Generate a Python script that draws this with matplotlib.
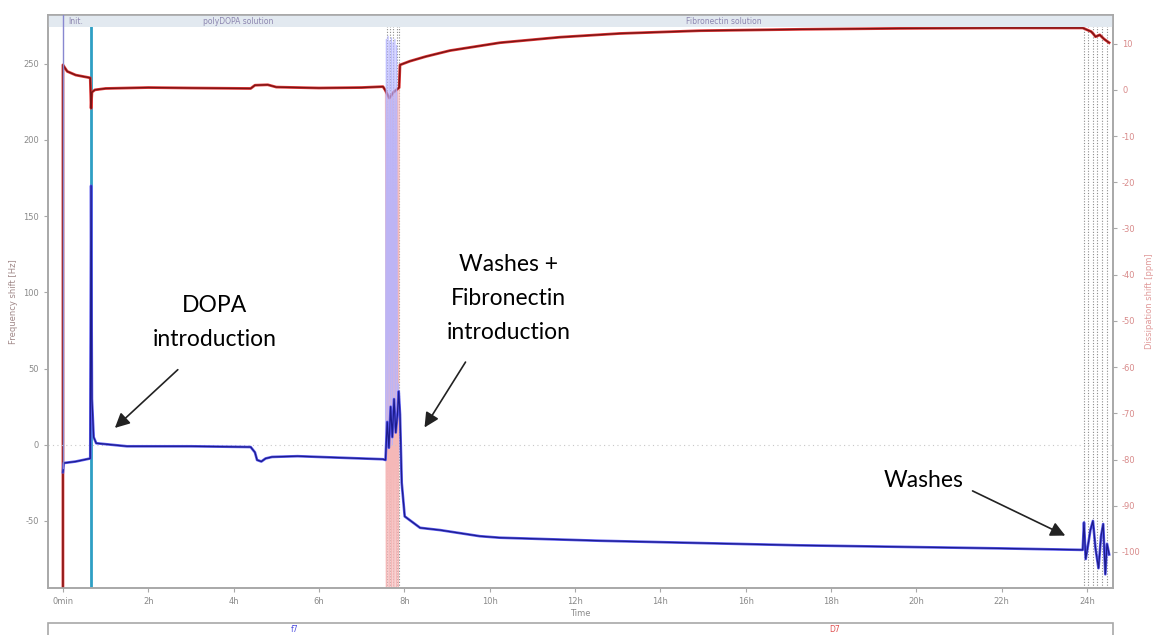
import matplotlib
import matplotlib.pyplot as plt
from matplotlib.patches import Rectangle

matplotlib.use('agg')
plt.rcParams['axes.unicode_minus'] = False

# frequency shift (Hz) against time (h)
f_time = [0.0, 0.02, 0.3, 0.64, 0.66, 0.68, 0.72, 0.78, 1.5, 3.0, 4.4, 4.5, 4.55, 4.65, 4.75,
          4.9, 5.5, 6.5, 7.5, 7.56, 7.6, 7.64, 7.68, 7.72, 7.76, 7.8, 7.84, 7.87, 7.9, 7.94, 8.01,
          8.37, 8.84, 9.77, 10.24, 12.58, 14.93, 17.27, 19.62, 21.96, 23.9, 23.93, 23.97, 24.03,
          24.08, 24.14, 24.2, 24.27, 24.33, 24.38, 24.43, 24.47, 24.52]
f_values = [-18, -12, -11, -9, 170, 30, 5, 1, -1, -1, -1.5, -5, -10, -11, -9,
            -8, -7.5, -8.5, -9.5, -10, 15, -2, 25, 5, 30, 8, 20, 35, 20, -25, -47,
            -54.5, -56, -60, -61, -63, -64.5, -66, -67, -68, -69, -51, -75, -65,
            -56, -50, -68, -81, -60, -52, -85, -65, -72]

# dissipation shift (ppm) against time (h)
d_time = [0.0, 0.0, 0.1, 0.3, 0.64, 0.66, 0.68, 0.75, 1.0, 2.0, 3.0, 4.4, 4.5, 4.8, 5.0, 6.0,
          7.0, 7.5, 7.55, 7.65, 7.75, 7.88, 7.9, 8.13, 8.5, 9.07, 10.24, 11.65, 13.05, 14.93,
          17.27, 19.6, 21.96, 23.9, 24.0, 24.1, 24.15, 24.2, 24.3, 24.4, 24.52]
d_values = [-120, 5.4, 4.0, 3.2, 2.6, -4, -0.5, 0.0, 0.3, 0.5, 0.4, 0.3, 1.0, 1.1, 0.6, 0.4,
            0.5, 0.7, 0.0, -1.8, -0.5, 0.5, 5.4, 6.2, 7.2, 8.5, 10.2, 11.4, 12.2, 12.8,
            13.1, 13.3, 13.4, 13.4, 13.0, 12.6, 12.1, 11.5, 11.9, 11.0, 10.2]

# rinse cycles around 7.6 h
wash_time = [7.56, 7.58, 7.60, 7.62, 7.64, 7.66, 7.68, 7.70, 7.72, 7.74, 7.76, 7.78, 7.80,
             7.82, 7.84, 7.86, 7.88]
wash_f = [-8, 266, 5, 268, 10, 265, 15, 267, 0, 264, 20, 266, 8, 262, 25, 40, 18]
wash_d = [0, -110, -1, -110, -2, -110, -1, -110, -0.5, -110, -1, -110, 0, -110, 0.5, -110, 5]

# event markers
init_start = 0.0
dopa_start = 0.66
wash1_marks = [7.59, 7.66, 7.73, 7.83, 7.88]
wash2_marks = [23.92, 24.02, 24.14, 24.23, 24.35, 24.47]

tick_hours = [0, 2, 4, 6, 8, 10, 12, 14, 16, 18, 20, 22, 24]
tick_labels = ['0min', '2h', '4h', '6h', '8h', '10h', '12h', '14h', '16h', '18h', '20h', '22h', '24h']
f_ticks = [-50, 0, 50, 100, 150, 200, 250]
d_ticks = [10, 0, -10, -20, -30, -40, -50, -60, -70, -80, -90, -100]

W, H = 1162, 635
fig = plt.figure(figsize=(W / 100, H / 100), dpi=100)
ax = fig.add_axes([48 / W, 1 - 588 / H, (1113 - 48) / W, (588 - 15) / H])
ax2 = ax.twinx()
ax.set_zorder(ax2.get_zorder() + 1)
ax.patch.set_visible(False)

grey = '#a8a8a8'
for a in (ax, ax2):
    for s in a.spines.values():
        s.set_color(grey)
        s.set_linewidth(1.2)

ax.set_xlim(-0.35, 24.61)
ax.set_ylim(-94, 282)
ax2.set_ylim(-107.8, 16.2)

# event lines
ax.axvline(init_start, ymin=(-15 + 94) / 376, color='#8888d0', lw=1.0, zorder=5)
ax2.axvline(dopa_start, color='#2e9fc4', lw=2.0, zorder=1)
for t in wash1_marks + wash2_marks:
    ax2.axvline(t, color='#8c8c8c', lw=0.8, ls=(0, (1, 1.5)), zorder=1)
ax.axhline(0, color='#c8c8c8', lw=0.8, ls=(0, (1, 3)), zorder=0)

# dissipation on the right axis
ax2.plot(wash_time, wash_d, color='#f5b8b8', lw=0.9, zorder=2)
ax2.plot(d_time, d_values, color='#e23a3a', lw=2.0, zorder=3)
ax2.plot(d_time, d_values, color='#7a1414', lw=1.0, zorder=4)

# frequency on the left axis
ax.plot(wash_time, wash_f, color='#b4b4ff', lw=0.9, alpha=0.85, zorder=2)
ax.plot(f_time, f_values, color='#5a5af0', lw=1.9, zorder=3)
ax.plot(f_time, f_values, color='#1c1c8c', lw=0.9, zorder=4)

ax.set_xticks(tick_hours)
ax.set_xticklabels(tick_labels)
ax.set_yticks(f_ticks)
ax2.set_yticks(d_ticks)
ax.tick_params(axis='both', colors=grey, labelcolor='#8a8a8a', labelsize=6, length=3, width=0.8)
ax2.tick_params(axis='y', colors=grey, labelcolor='#d88a8a', labelsize=6, length=3, width=0.8)
ax.set_xlabel('Time', fontsize=6, color='#8a8a8a', labelpad=2)
ax.set_ylabel('Frequency shift [Hz]', fontsize=6, color='#a08888', labelpad=4)
ax2.set_ylabel('Dissipation shift [ppm]', fontsize=6, color='#e09a9a', labelpad=3)
ax2.yaxis.label.set_rotation(90)

# header band with phase names
band_h = 12 / 573
ax.add_patch(Rectangle((0, 1 - band_h), 1, band_h, transform=ax.transAxes,
                       facecolor='#e2e9f0', edgecolor='none', zorder=0.5))
band_y = 1 - band_h / 2
ax.text(0.3, band_y, 'Init.', transform=ax.get_xaxis_transform(), fontsize=5.5,
        color='#8c86b0', va='center', ha='center')
ax.text(4.1, band_y, 'polyDOPA solution', transform=ax.get_xaxis_transform(), fontsize=5.5,
        color='#8c86b0', va='center', ha='center')
ax.text(15.5, band_y, 'Fibronectin solution', transform=ax.get_xaxis_transform(), fontsize=5.5,
        color='#8c86b0', va='center', ha='center')

# annotations
note = dict(fontsize=16.5, family='Lato', color='black', ha='center', va='center', linespacing=1.75)
arrow = dict(arrowstyle='-|>', color='#222222', lw=1.2, mutation_scale=22)
ax.text(3.55, 80, 'DOPA\nintroduction', **note)
ax.annotate('', xy=(1.17, 9.8), xytext=(2.74, 50.5), arrowprops=arrow)
ax.text(10.45, 96, 'Washes +\nFibronectin\nintroduction', **note)
ax.annotate('', xy=(8.44, 9.8), xytext=(9.47, 55.8), arrowprops=arrow)
ax.text(20.18, -23.6, 'Washes', **note)
ax.annotate('', xy=(23.55, -60.4), xytext=(21.26, -29.5), arrowprops=arrow)

# series legend strip below the axis
fig.patches.append(Rectangle((48 / W, -0.02), (1113 - 48) / W, 0.02 + (635 - 623) / H,
                             transform=fig.transFigure, facecolor='white',
                             edgecolor=grey, lw=1.2))
fig.text(295 / W, 1 - 630 / H, 'f7', fontsize=5.5, color='#5050e0', ha='center', va='center')
fig.text(835 / W, 1 - 630 / H, 'D7', fontsize=5.5, color='#e05050', ha='center', va='center')

fig.savefig('out.png', dpi=100)
plt.close()
